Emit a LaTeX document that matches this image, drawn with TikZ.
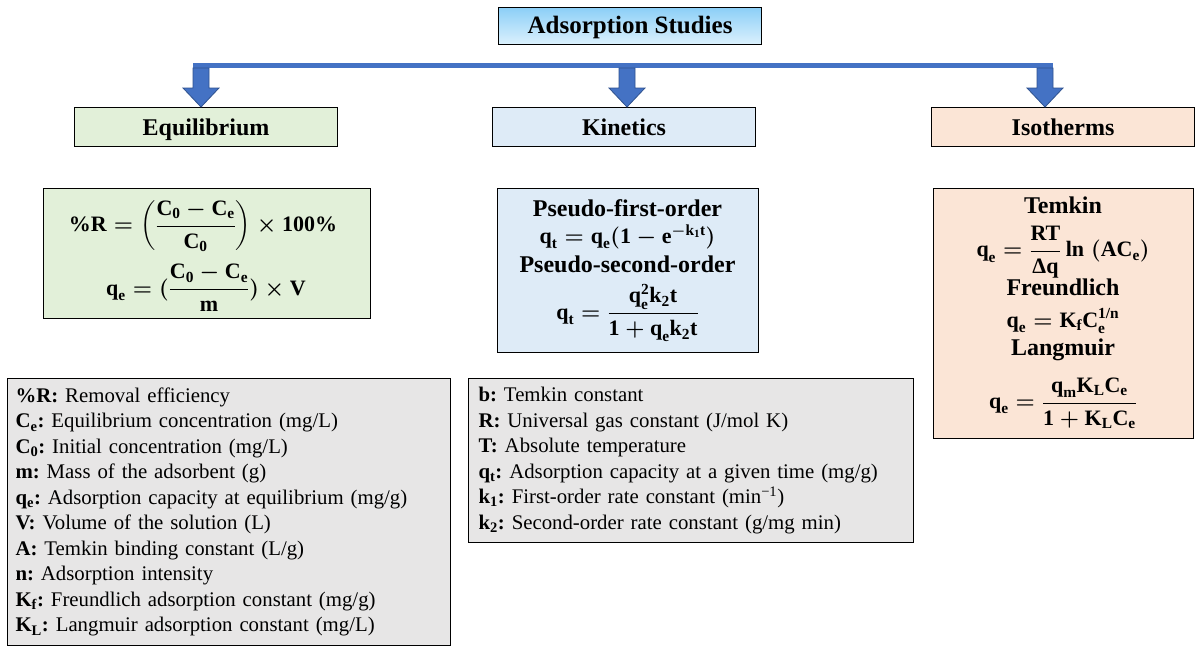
\RequirePackage{fix-cm}
\documentclass[tikz,border=0pt]{standalone}
\usepackage{amsmath}
\usepackage{fontspec}
\setmainfont{Liberation Serif}
\usetikzlibrary{calc}
\definecolor{arrowblue}{HTML}{4472C4}
\definecolor{arrowdark}{HTML}{2F528F}
\definecolor{greenfill}{HTML}{E2F0D9}
\definecolor{bluefill}{HTML}{DEEBF7}
\definecolor{peachfill}{HTML}{FBE5D6}
\definecolor{legendgray}{HTML}{E7E6E6}
\definecolor{titletop}{HTML}{8CCFF7}
\definecolor{titlebot}{HTML}{DCF1FD}
\newcommand\bv[1]{\textbf{#1}}
\tikzset{
  box/.style={draw=black, line width=1.1pt, inner sep=0pt, anchor=north west},
  hbox/.style={box, minimum width=263pt, minimum height=39pt, text height=16pt, text depth=0pt,
    font=\bfseries\fontsize{24}{28}\selectfont},
  lbl/.style={font=\bfseries\fontsize{24}{28}\selectfont, anchor=base, inner sep=0pt},
  eqn/.style={font=\fontsize{22}{26}\selectfont\boldmath, inner sep=0pt},
  legendbox/.style={box, fill=legendgray, align=left, inner ysep=0pt,
    font=\fontsize{20.8}{25.5}\selectfont\frenchspacing},
  barline/.style={draw=arrowblue, line width=5.5pt},
  blockarrow/.style={draw=arrowdark, fill=arrowblue, line width=0.8pt, line join=miter}
}
\newcommand\blockarr[2]{%
  \draw[blockarrow] ($(#1)+(-8,0)$) -- ($(#1 |- #2.north)+(-8,-19)$) -- ($(#1 |- #2.north)+(-18,-19)$)
   -- (#1 |- #2.north) -- ($(#1 |- #2.north)+(18,-19)$) -- ($(#1 |- #2.north)+(8,-19)$) -- ($(#1)+(8,0)$) -- cycle;}
\begin{document}
\begin{tikzpicture}[x=1pt,y=-1pt]
\useasboundingbox[fill=white] (0,0) rectangle (1203,653);

% title
\node[box, top color=titletop, bottom color=titlebot, minimum width=263pt, minimum height=37pt,
  text height=16pt, text depth=2pt, font=\bfseries\fontsize{25}{29}\selectfont] (title) at (498,7) {Adsorption Studies};

% headings
\node[hbox, fill=greenfill] (eqh) at (74,107) {Equilibrium};
\node[hbox, fill=bluefill] (kinh) at (492,107) {Kinetics};
\node[hbox, fill=peachfill] (isoh) at (931,107) {Isotherms};

% connectors
\coordinate (bl) at (193,65.5);
\coordinate (br) at (1053,65.5);
\coordinate (t1) at (201,68);
\coordinate (t2) at (627,68);
\coordinate (t3) at (1045,68);
\draw[barline] (bl) -- (br);
\blockarr{t1}{eqh}
\blockarr{t2}{kinh}
\blockarr{t3}{isoh}

% formula boxes
\node[box, fill=greenfill, minimum width=327pt, minimum height=130pt] (eqf) at (43,188) {};
\node[eqn] (eq1) at (203,226) {$\bv{\%R}=\left(\dfrac{\bv{C}_{\bv{0}}-\bv{C}_{\bv{e}}}{\bv{C}_{\bv{0}}}\right)\times\bv{100\%}$};
\node[eqn] (eq2) at (206,288) {$\bv{q}_{\bv{e}}=(\dfrac{\bv{C}_{\bv{0}}-\bv{C}_{\bv{e}}}{\bv{m}})\times\bv{V}$};

\node[box, fill=bluefill, minimum width=261pt, minimum height=164pt] (kinf) at (497,188) {};
\node[lbl] (k1) at (627.5,216) {Pseudo-first-order};
\node[eqn, anchor=base] (k2) at (627.5,243) {$\bv{q}_{\bv{t}}=\bv{q}_{\bv{e}}(\bv{1}-\bv{e}^{-\bv{k}_{\bv{1}}\bv{t}})$};
\node[lbl] (k3) at (627.5,272) {Pseudo-second-order};
\node[eqn] (k4) at (627.5,313) {$\bv{q}_{\bv{t}}=\dfrac{\bv{q}_{\bv{e}}^{\bv{2}}\bv{k}_{\bv{2}}\bv{t}}{\bv{1}+\bv{q}_{\bv{e}}\bv{k}_{\bv{2}}\bv{t}}$};

\node[box, fill=peachfill, minimum width=260pt, minimum height=250pt] (isof) at (933,188) {};
\node[lbl] (i1) at (1063,213) {Temkin};
\node[eqn] (i2) at (1063,252) {$\bv{q}_{\bv{e}}=\dfrac{\bv{RT}}{\bv{Δq}}\,\bv{ln}\;(\bv{AC}_{\bv{e}})$};
\node[lbl] (i3) at (1063,295) {Freundlich};
\node[eqn, anchor=base] (i4) at (1063,327) {$\bv{q}_{\bv{e}}=\bv{K}_{\bv{f}}\bv{C}_{\bv{e}}^{\bv{1/n}}$};
\node[lbl] (i5) at (1063,355) {Langmuir};
\node[eqn] (i6) at (1063,403) {$\bv{q}_{\bv{e}}=\dfrac{\bv{q}_{\bv{m}}\bv{K}_{\bv{L}}\bv{C}_{\bv{e}}}{\bv{1}+\bv{K}_{\bv{L}}\bv{C}_{\bv{e}}}$};

% legends
\node[legendbox, inner xsep=8pt, text width=427pt, minimum height=267pt] (leg1) at (7,378) {%
\textbf{\%R:} Removal efficiency\\
\textbf{C\textsubscript{e}:} Equilibrium concentration (mg/L)\\
\textbf{C\textsubscript{0}:} Initial concentration (mg/L)\\
\textbf{m:} Mass of the adsorbent (g)\\
\textbf{q\textsubscript{e}:} Adsorption capacity at equilibrium (mg/g)\\
\textbf{V:} Volume of the solution (L)\\
\textbf{A:} Temkin binding constant (L/g)\\
\textbf{n:} Adsorption intensity\\
\textbf{K\textsubscript{f}:} Freundlich adsorption constant (mg/g)\\
\textbf{K\textsubscript{L}:} Langmuir adsorption constant (mg/L)};

\node[legendbox, inner xsep=10pt, text width=425pt, minimum height=164pt] (leg2) at (468,378) {%
\textbf{b:} Temkin constant\\
\textbf{R:} Universal gas constant (J/mol K)\\
\textbf{T:} Absolute temperature\\
\textbf{q\textsubscript{t}:} Adsorption capacity at a given time (mg/g)\\
\textbf{k\textsubscript{1}:} First-order rate constant (min\textsuperscript{−1})\\
\textbf{k\textsubscript{2}:} Second-order rate constant (g/mg min)};
\end{tikzpicture}
\end{document}
